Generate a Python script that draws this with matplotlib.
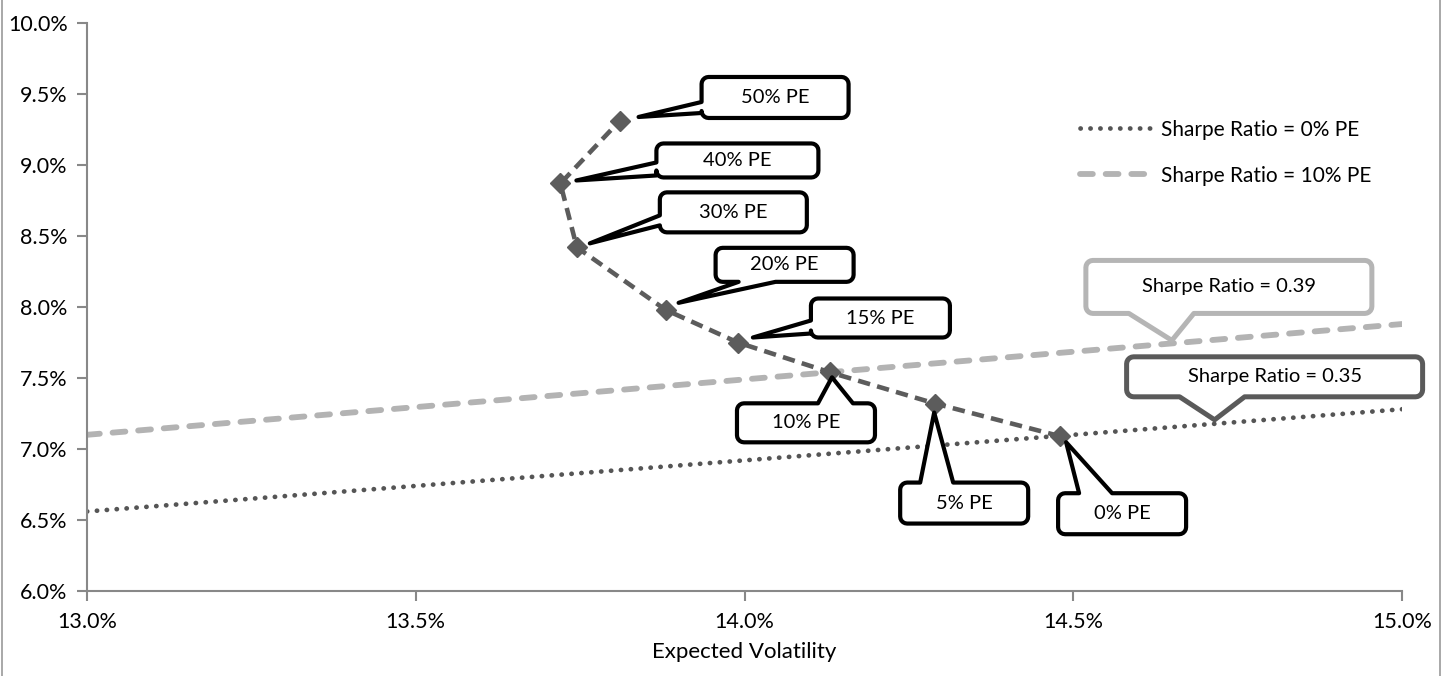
import matplotlib
matplotlib.use("Agg")
import matplotlib.pyplot as plt
from matplotlib.patches import Polygon
from matplotlib.lines import Line2D
import numpy as np

# efficient frontier for increasing private-equity allocation
pe_labels = ['0% PE', '5% PE', '10% PE', '15% PE', '20% PE', '30% PE', '40% PE', '50% PE']
volatility = [14.48, 14.29, 14.13, 13.99, 13.88, 13.745, 13.72, 13.81]
exp_return = [7.09, 7.32, 7.54, 7.75, 7.98, 8.42, 8.87, 9.31]

# capital allocation lines (end points at the x-axis limits)
sharpe_x = [13.0, 15.0]
sharpe0_y = [6.56, 7.28]
sharpe10_y = [7.10, 7.88]
sharpe_labels = ['Sharpe Ratio = 0.39', 'Sharpe Ratio = 0.35']
sharpe_anchor_x = [14.65, 14.715]

x_ticks = [13.0, 13.5, 14.0, 14.5, 15.0]
y_ticks = [6.0, 6.5, 7.0, 7.5, 8.0, 8.5, 9.0, 9.5, 10.0]

plt.rcParams['font.family'] = ['Lato', 'DejaVu Sans']

W, H = 1448, 676
fig = plt.figure(figsize=(W / 100, H / 100), dpi=100)
ax = fig.add_axes([87 / W, 1 - 591 / H, (1402 - 87) / W, (591 - 23) / H])

ax.plot(sharpe_x, sharpe0_y, color='#555555', lw=3.4, dashes=[0.05, 2.05],
        dash_capstyle='round', label='Sharpe Ratio = 0% PE', zorder=2)
ax.plot(sharpe_x, sharpe10_y, color='#b3b3b3', lw=4.2, dashes=[2.2, 2.2],
        dash_capstyle='round', label='Sharpe Ratio = 10% PE', zorder=2)
ax.plot(volatility, exp_return, color='#5c5c5c', lw=3.3, dashes=[2.7, 1.6],
        marker='D', markersize=10.5, markerfacecolor='#5c5c5c',
        markeredgecolor='#5c5c5c', zorder=3)

ax.set_xlim(13.0, 15.0)
ax.set_ylim(6.0, 10.0)
ax.set_xticks(x_ticks)
ax.set_yticks(y_ticks)
ax.set_xticklabels([f'{v:.1f}%' for v in x_ticks])
ax.set_yticklabels([f'{v:.1f}%' for v in y_ticks])
ax.tick_params(axis='both', labelsize=15.5, color='#888888', width=1.5, length=7)
ax.tick_params(axis='x', pad=8)
ax.tick_params(axis='y', pad=7)
for s in ['top', 'right']:
    ax.spines[s].set_visible(False)
for s in ['left', 'bottom']:
    ax.spines[s].set_color('#888888')
    ax.spines[s].set_linewidth(1.5)
ax.set_xlabel('Expected Volatility', fontsize=16, labelpad=7)

leg = ax.legend(loc='upper left', bbox_to_anchor=(0.755, 0.83), frameon=False,
                fontsize=15, handlelength=3.4, labelspacing=1.25,
                borderpad=0, borderaxespad=0, handletextpad=0.5)

# figure border (left/right visible in original)
fig.add_artist(Line2D([2 / W, 2 / W], [0, 1], color='#999999', lw=1.2))
fig.add_artist(Line2D([1 - 8 / W, 1 - 8 / W], [0, 1], color='#999999', lw=1.2))


def callout(x, y, box, tip, side, base, text, ec='black', lw=3.0, fs=14.5):
    """Excel-style rounded callout; offsets are in pixels relative to (x, y), y down."""
    fig.canvas.draw()
    dx, dy = ax.transData.transform((x, y))
    mx, my = dx, H - dy
    x0, y0, x1, y1 = mx + box[0], my + box[1], mx + box[2], my + box[3]
    tx, ty = mx + tip[0], my + tip[1]
    b0, b1 = sorted(base)
    r = 7
    pts = []

    def arc(cx, cy, a0, a1):
        for a in np.linspace(np.radians(a0), np.radians(a1), 6):
            pts.append((cx + r * np.cos(a), cy + r * np.sin(a)))

    pts.append((x0 + r, y0))
    if side == 'top':
        pts += [(mx + b0, y0), (tx, ty), (mx + b1, y0)]
    arc(x1 - r, y0 + r, -90, 0)
    arc(x1 - r, y1 - r, 0, 90)
    if side == 'bottom':
        pts += [(mx + b1, y1), (tx, ty), (mx + b0, y1)]
    arc(x0 + r, y1 - r, 90, 180)
    if side == 'left':
        pts += [(x0, my + b1), (tx, ty), (x0, my + b0)]
    arc(x0 + r, y0 + r, 180, 270)

    disp = np.array([(px, H - py) for px, py in pts])
    data = ax.transData.inverted().transform(disp)
    ax.add_patch(Polygon(data, closed=True, facecolor='white', edgecolor=ec,
                         lw=lw, joinstyle='round', zorder=5, clip_on=False))
    cx, cy = (x0 + x1) / 2, (y0 + y1) / 2
    tdata = ax.transData.inverted().transform((cx, H - cy))
    ax.text(tdata[0], tdata[1], text, ha='center', va='center', fontsize=fs,
            color='black', zorder=6)


# frontier callouts: box (x0, y0, x1, y1), tip, side, base range
frontier_callouts = [
    ((-2, 57, 126, 98), (6, 6), 'top', (19, 52)),
    ((-35, 79, 93, 120), (-1, 9), 'top', (-15, 18)),
    ((-93, 31, 45, 70), (2, 5), 'top', (-12, 23)),
    ((73, -44, 212, -5), (15, -5), 'left', (-22, -9)),
    ((50, -62, 188, -28), (13, -7), 'bottom', (73, 110)),
    ((83, -55, 230, -15), (13, -4), 'left', (-32, -22)),
    ((96, -40, 258, -6), (16, -3), 'left', (-21, -8)),
    ((82, -44, 229, -3), (19, -4), 'left', (-19, -8)),
]
for i, (box, tip, side, base) in enumerate(frontier_callouts):
    callout(volatility[i], exp_return[i], box, tip, side, base, pe_labels[i])

# sharpe ratio callouts anchored on the lines
for i, (ys, ec, box, tip, base) in enumerate([
        (sharpe10_y, '#b5b5b5', (-86, -83, 200, -30), (0, -3), (-43, 22)),
        (sharpe0_y, '#5a5a5a', (-88, -67, 208, -27), (0, -4), (-35, 30))]):
    xa = sharpe_anchor_x[i]
    ya = np.interp(xa, sharpe_x, ys)
    callout(xa, ya, box, tip, 'bottom', base, sharpe_labels[i], ec=ec, lw=3.6)

fig.savefig('out.png', dpi=100)
